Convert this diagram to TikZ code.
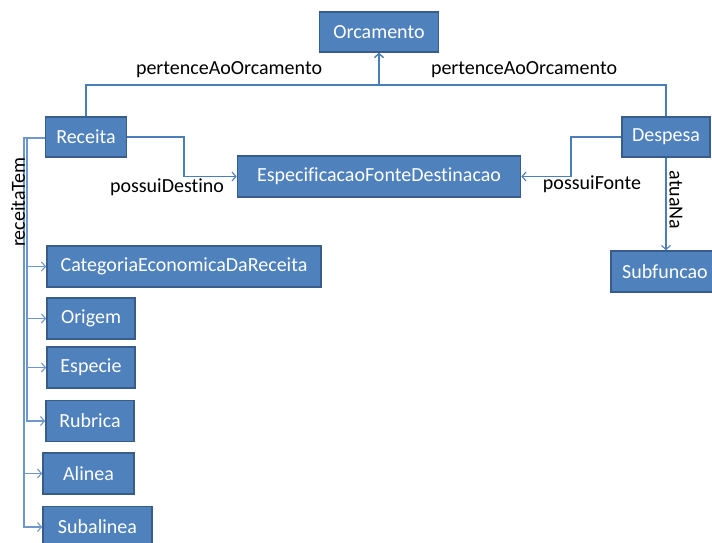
\documentclass[tikz,border=0pt]{standalone}
\usepackage{fontspec}
\setmainfont{Carlito}[Ligatures=NoCommon]
\usetikzlibrary{arrows.meta}
\definecolor{boxfill}{HTML}{4F81BD}
\definecolor{boxline}{HTML}{385D8A}
\definecolor{conncol}{HTML}{4A7EBB}
\definecolor{conlight}{HTML}{6E97CC}
\tikzset{
  cls/.style={draw=boxline, line width=1.6pt, fill=boxfill, text=white,
    font=\fontsize{20}{24}\selectfont, inner sep=0pt, minimum height=40pt},
  lbl/.style={font=\fontsize{20}{24}\selectfont, text=black, inner sep=0pt},
  conn/.style={draw=conncol, line width=1.1pt, -{Straight Barb[length=4pt,width=9pt,line width=1.1pt]}},
  connl/.style={draw=conlight, line width=1.4pt, -{Straight Barb[length=4pt,width=9pt,line width=1.1pt]}},
  plain/.style={draw=conncol, line width=1.1pt}
}
\begin{document}
\begin{tikzpicture}[x=1pt,y=-1pt]
\useasboundingbox (0,0) rectangle (712,543);
% classes
\node[cls, minimum width=119pt] (orc) at (379,32) {Orcamento};
\node[cls, minimum width=81pt] (rec) at (86,137) {Receita};
\node[cls, minimum width=88pt] (desp) at (666,137) {Despesa};
\node[cls, minimum width=283pt, minimum height=41pt] (esp) at (379,176.5) {EspecificacaoFonteDestinacao};
\node[cls, minimum width=108pt, minimum height=41pt] (sub) at (665,271.5) {Subfuncao};
\node[cls, minimum width=274pt, minimum height=41pt] (cat) at (184,266.5) {CategoriaEconomicaDaReceita};
\node[cls, minimum width=88pt, minimum height=41pt] (ori) at (91,318.5) {Origem};
\node[cls, minimum width=88pt, minimum height=41pt] (espc) at (91,367.5) {Especie};
\node[cls, minimum width=88pt, minimum height=41pt] (rub) at (90,421) {Rubrica};
\node[cls, minimum width=91pt, minimum height=41pt] (ali) at (88.5,473.5) {Alinea};
\node[cls, minimum width=109pt, minimum height=41pt] (sal) at (97.5,527) {Subalinea};
% junction points
\coordinate (jn) at (379,85);
\coordinate (rb) at (184,137);
\coordinate (db) at (571,137);
\coordinate (rt) at (27,138);
\coordinate (rt2) at (24,138);
% pertenceAoOrcamento
\draw[conn] (rec.north) |- (jn) -- (orc.south);
\draw[conn] (desp.north) |- (jn) -- (orc.south);
% possuiDestino / possuiFonte
\draw[conn] (rec.east) -- (rb) |- (esp.west);
\draw[conn] (desp.west) -- (db) |- (esp.east);
% atuaNa
\draw[conn] (desp.south) -- (desp.south |- sub.north);
% receitaTem
\draw[connl] (rec.west |- rt) -- (rt) |- (cat.west);
\draw[connl] (rec.west |- rt) -- (rt) |- (ori.west);
\draw[connl] (rec.west |- rt) -- (rt) |- (espc.west);
\draw[connl] (rec.west |- rt) -- (rt) |- (rub.west);
\draw[connl] (rec.west |- rt) -- (rt2) |- (ali.west);
\draw[connl] (rec.west |- rt) -- (rt2) |- (sal.west);
% labels
\node[lbl] (l1) at (229,70) {pertenceAoOrcamento};
\node[lbl] (l2) at (524,70) {pertenceAoOrcamento};
\node[lbl] (l3) at (167,187) {possuiDestino};
\node[lbl] (l4) at (592,184) {possuiFonte};
\node[lbl, rotate=-90] (l5) at (676,200) {atuaNa};
\node[lbl, rotate=90] (l6) at (18,202) {receitaTem};
\end{tikzpicture}
\end{document}
